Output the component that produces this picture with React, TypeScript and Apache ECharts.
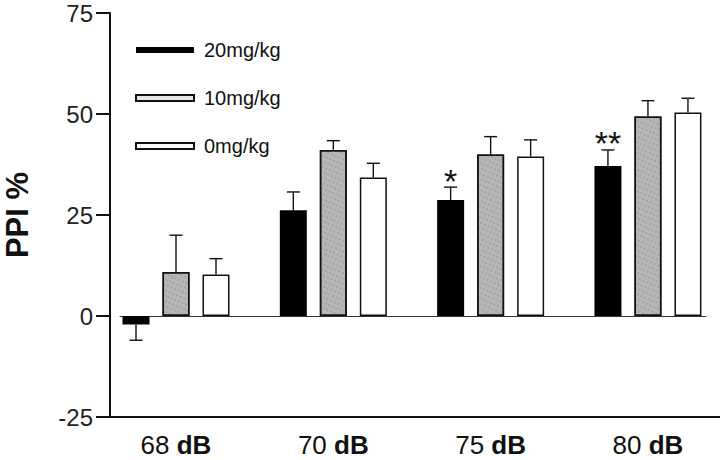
import React, { useEffect, useRef } from "react";
import * as echarts from "echarts";

// ---- data ----
const categories = ["68 dB", "70 dB", "75 dB", "80 dB"];
const seriesNames = ["20mg/kg", "10mg/kg", "0mg/kg"];
const mean20 = [-2.1, 26.2, 28.7, 37.1];
const mean10 = [10.9, 41.1, 40.0, 49.4];
const mean0 = [10.3, 34.3, 39.5, 50.4];
const sem20 = [3.9, 4.5, 3.2, 4.0];
const sem10 = [9.1, 2.3, 4.4, 3.9];
const sem0 = [3.9, 3.5, 4.1, 3.5];
const signif20 = ["", "", "*", "**"];
const signif10 = ["", "", "", ""];
const signif0 = ["", "", "", ""];
const yTicks = [-25, 0, 25, 50, 75];

const FONT = "'Liberation Sans', Arial, Helvetica, sans-serif";
const BAR_W = 27;
const BAR_GAP = 13;
const INK = "#111";

const means = [mean20, mean10, mean0];
const sems = [sem20, sem10, sem0];
const sigs = [signif20, signif10, signif0];

const errData: { v: number[]; sig: string }[] = [];
means.forEach((arr, s) =>
  arr.forEach((m, i) => errData.push({ v: [i, s, m, sems[s][i]], sig: sigs[s][i] }))
);

export default function App() {
  const ref = useRef<HTMLDivElement>(null);
  useEffect(() => {
    if (!ref.current) return;
    const chart = echarts.init(ref.current, undefined, { renderer: "svg" });
    const yMin = yTicks[0];
    const yMax = yTicks[yTicks.length - 1];
    const barGapPct = (BAR_GAP / BAR_W) * 100 + "%";
    const option: any = {
      animation: false,
      backgroundColor: "#fff",
      textStyle: { fontFamily: FONT },
      grid: [
        { left: 120, right: 14, top: 13, bottom: 43, outerBoundsMode: "none", containLabel: false },
        { left: 97.3, right: -6.6, top: 13, bottom: 43, outerBoundsMode: "none", containLabel: false },
        { left: 110, right: 0, top: 13, bottom: 43, outerBoundsMode: "none", containLabel: false },
      ],
      legend: {
        orient: "vertical",
        left: 135,
        top: 39,
        padding: 0,
        itemWidth: 58,
        itemHeight: 6,
        itemGap: 26,
        icon: "rect",
        textStyle: { fontSize: 20, lineHeight: 22, color: INK, fontFamily: FONT, padding: [0, 0, 0, 5] },
        data: seriesNames,
      },
      xAxis: [
        {
          gridIndex: 0,
          type: "value",
          min: -0.356,
          max: 3.369,
          axisLine: { show: true, onZero: true, lineStyle: { color: "#333", width: 1 } },
          axisTick: { show: false },
          axisLabel: { show: false },
          splitLine: { show: false },
        },
        {
          gridIndex: 1,
          type: "category",
          data: categories,
          axisLine: { show: false },
          axisTick: { show: false },
          splitLine: { show: false },
          axisLabel: {
            margin: 15,
            fontSize: 26,
            color: INK,
            fontFamily: FONT,
            formatter: (v: string) => {
              const parts = v.split(" ");
              return parts[0] + " {b|" + parts.slice(1).join(" ") + "}";
            },
            rich: { b: { fontSize: 26, fontWeight: "bold", color: INK, fontFamily: FONT } },
          },
        },
        {
          gridIndex: 2,
          type: "value",
          min: 0,
          max: 1,
          axisLine: { show: true, onZero: false, lineStyle: { color: INK, width: 2 } },
          axisTick: { show: false },
          axisLabel: { show: false },
          splitLine: { show: false },
        },
      ],
      yAxis: [
        { gridIndex: 0, type: "value", min: yMin, max: yMax, show: false },
        { gridIndex: 1, type: "value", min: yMin, max: yMax, show: false },
        {
          gridIndex: 2,
          type: "value",
          min: yMin,
          max: yMax,
          interval: 25,
          axisLine: { show: true, lineStyle: { color: INK, width: 2 } },
          axisTick: { show: true, length: 14, lineStyle: { color: INK, width: 2 } },
          axisLabel: { margin: 17, fontSize: 24, color: "#222", fontFamily: FONT },
          splitLine: { show: false },
          name: "PPI %",
          nameLocation: "middle",
          nameGap: 77,
          nameTextStyle: { fontSize: 31, fontWeight: "bold", color: INK, fontFamily: FONT },
        },
      ],
      series: [
        // legend swatches (no data; drawn only in the legend)
        {
          name: seriesNames[0],
          type: "bar",
          xAxisIndex: 1,
          yAxisIndex: 1,
          itemStyle: { color: "#000" },
          data: [],
        },
        {
          name: seriesNames[1],
          type: "bar",
          xAxisIndex: 1,
          yAxisIndex: 1,
          itemStyle: { color: "#e6e6e6", borderColor: INK, borderWidth: 1.2 },
          data: [],
        },
        {
          name: seriesNames[2],
          type: "bar",
          xAxisIndex: 1,
          yAxisIndex: 1,
          itemStyle: { color: "#fff", borderColor: INK, borderWidth: 1.2 },
          data: [],
        },
        {
          name: seriesNames[0],
          type: "bar",
          xAxisIndex: 0,
          yAxisIndex: 0,
          barWidth: BAR_W,
          barGap: barGapPct,
          itemStyle: { color: "#000" },
          data: mean20.map((v, i) => [i, v]),
        },
        {
          name: seriesNames[1],
          type: "bar",
          xAxisIndex: 0,
          yAxisIndex: 0,
          barWidth: BAR_W,
          barGap: barGapPct,
          itemStyle: {
            color: "#b6b6b6",
            borderColor: INK,
            borderWidth: 1.5,
            decal: {
              symbol: "circle",
              symbolSize: 0.8,
              color: "rgba(90,90,90,0.35)",
              dashArrayX: [[1, 2], [0, 1, 2, 1]],
              dashArrayY: [1, 1, 2, 1],
              rotation: 0.4,
            },
          },
          data: mean10.map((v, i) => [i, v]),
        },
        {
          name: seriesNames[2],
          type: "bar",
          xAxisIndex: 0,
          yAxisIndex: 0,
          barWidth: BAR_W,
          barGap: barGapPct,
          itemStyle: { color: "#fff", borderColor: INK, borderWidth: 1.5 },
          data: mean0.map((v, i) => [i, v]),
        },
        {
          type: "custom",
          xAxisIndex: 0,
          yAxisIndex: 0,
          z: 5,
          encode: { x: 0, y: 2 },
          data: errData.map((d) => d.v),
          renderItem: (params: any, api: any) => {
            const d = errData[params.dataIndex];
            const [i, s, m, e] = d.v;
            const dir = m < 0 ? -1 : 1;
            const base = api.coord([i, m]);
            const tip = api.coord([i, m + dir * e]);
            const x = base[0] + (s - 1) * (BAR_W + BAR_GAP);
            const ls = { stroke: INK, lineWidth: 1.4 };
            const children: any[] = [
              { type: "line", shape: { x1: x, y1: base[1], x2: x, y2: tip[1] }, style: ls },
              { type: "line", shape: { x1: x - 6.5, y1: tip[1], x2: x + 6.5, y2: tip[1] }, style: ls },
            ];
            if (d.sig) {
              children.push({
                type: "text",
                x,
                y: tip[1] - 6.5,
                style: {
                  text: d.sig,
                  fontSize: 34,
                  fontFamily: FONT,
                  fill: INK,
                  align: "center",
                  verticalAlign: "middle",
                },
              });
            }
            return { type: "group", children };
          },
        },
      ],
    };
    chart.setOption(option);
    return () => chart.dispose();
  }, []);
  return (
    <div
      ref={ref}
      style={{ position: "fixed", left: 0, top: 0, width: 720, height: 460, background: "#fff" }}
    />
  );
}
